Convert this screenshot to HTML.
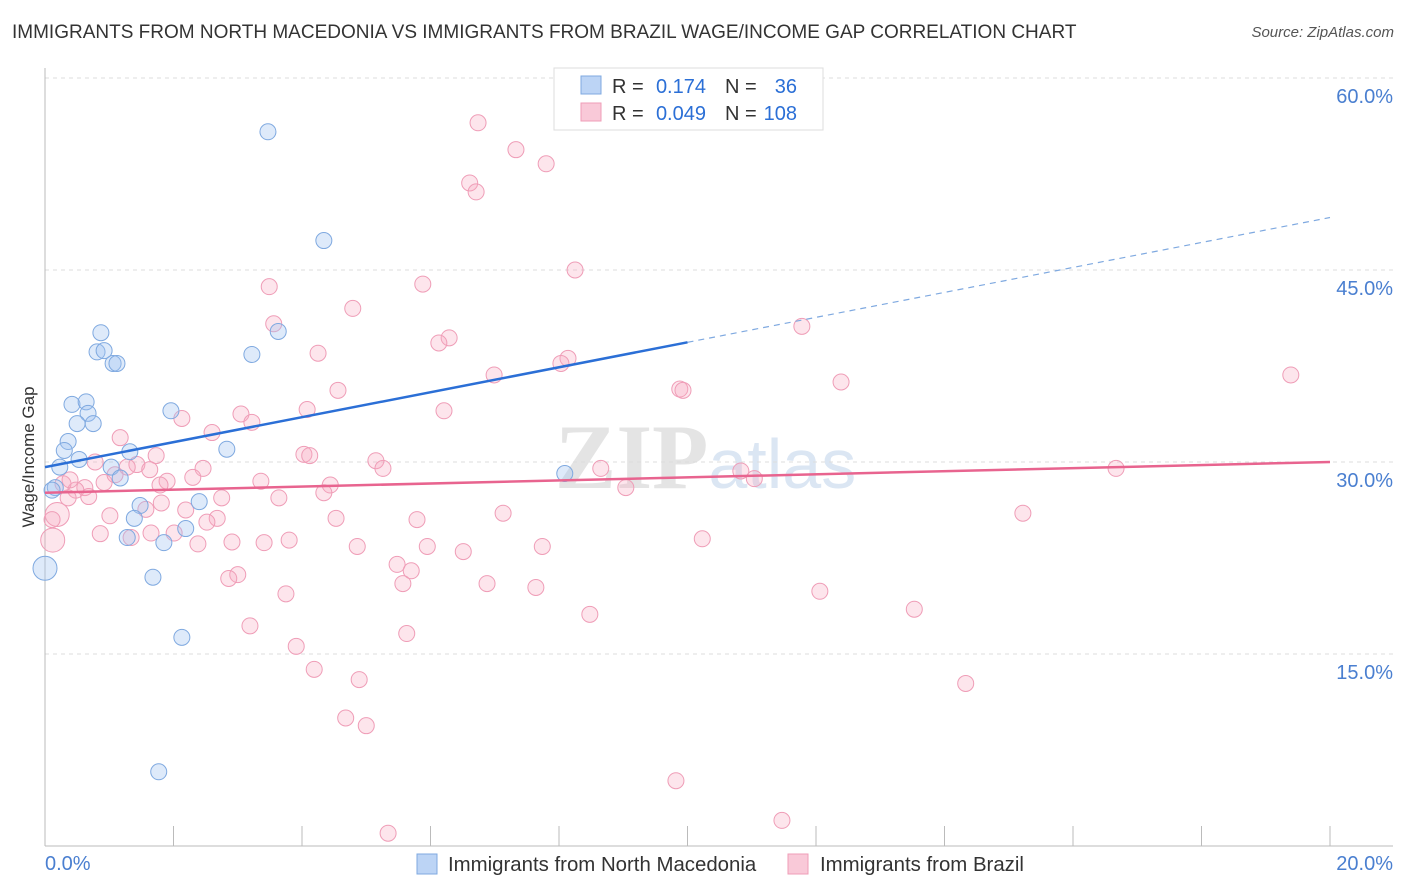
<!DOCTYPE html>
<html><head><meta charset="utf-8">
<style>
body{margin:0;background:#fff;font-family:"Liberation Sans",sans-serif;}
#wrap{position:relative;width:1406px;height:892px;overflow:hidden;}
.title{position:absolute;left:12px;top:22px;font-size:19px;color:#333;}
.source{position:absolute;right:12px;top:24px;font-size:15px;color:#555;font-style:italic;}
</style></head>
<body>
<div id="wrap">
<div class="title">IMMIGRANTS FROM NORTH MACEDONIA VS IMMIGRANTS FROM BRAZIL WAGE/INCOME GAP CORRELATION CHART</div>
<div class="source">Source: ZipAtlas.com</div>
<svg id="svg" width="1406" height="892" style="position:absolute;left:0;top:0"></svg>
</div>
<script>
const blueX=[3.47,4.34,0.87,0.81,0.92,1.06,1.12,3.22,3.63,0.42,0.64,0.67,0.75,0.50,1.96,0.36,0.30,0.53,1.32,2.83,0.23,1.03,1.17,0.16,0.11,1.48,2.40,1.39,2.19,1.28,1.85,1.68,0.0,2.13,1.77,8.09];
const blueY=[55.8,47.3,40.1,38.6,38.7,37.7,37.7,38.4,40.2,34.5,34.7,33.8,33.0,33.0,34.0,31.6,30.9,30.2,30.8,31.0,29.6,29.6,28.75,28.0,27.8,26.6,26.9,25.6,24.8,24.1,23.7,21.0,21.7,16.3,5.8,29.1];
const blueBig=[32];
const pinkX=[6.74,7.33,7.80,6.61,6.71,8.25,5.88,3.49,4.79,3.56,11.78,6.29,6.13,4.25,8.14,8.03,6.99,9.88,9.93,12.39,4.56,19.39,6.21,4.08,3.05,2.13,3.22,2.60,1.17,1.73,4.03,4.12,5.15,5.26,0.78,1.43,1.28,8.65,10.83,11.04,16.67,2.46,2.30,1.90,0.28,0.62,0.48,0.92,3.36,4.44,9.04,0.36,0.68,4.34,2.75,3.64,1.81,1.57,2.19,7.13,15.22,1.01,2.68,2.52,4.53,5.79,0.19,0.11,0.12,0.86,1.34,1.65,2.01,2.38,2.91,3.41,3.80,4.86,5.95,6.51,7.74,10.23,5.48,5.70,5.57,3.00,2.86,6.88,7.64,12.06,8.48,13.53,3.75,3.19,5.63,3.91,4.19,4.89,14.33,4.68,5.00,9.82,11.47,5.34,0.39,1.09,1.63,1.79];
const pinkY=[56.5,54.4,53.3,51.8,51.1,45.0,43.9,43.7,42.0,40.8,40.6,39.7,39.3,38.5,38.1,37.7,36.8,35.7,35.6,36.25,35.6,36.8,34.0,34.1,33.75,33.4,33.1,32.3,31.9,30.5,30.6,30.5,30.1,29.5,30.0,29.8,29.6,29.5,29.3,28.7,29.5,29.5,28.8,28.5,28.3,28.0,27.8,28.4,28.5,28.2,28.0,27.2,27.3,27.6,27.2,27.2,26.8,26.3,26.25,26.0,26.0,25.8,25.6,25.3,25.6,25.5,25.9,25.5,23.9,24.4,24.1,24.45,24.45,23.6,23.75,23.7,23.9,23.4,23.4,23.0,23.4,24.0,22.0,21.5,20.5,21.2,20.9,20.5,20.2,19.9,18.1,18.5,19.7,17.2,16.6,15.6,13.8,13.0,12.7,10.0,9.4,5.1,2.0,1.0,28.6,29.0,29.4,28.2];
const pinkBig=[66,68];
const yTicks=[15,30,45,60];
const yTickLabels=["15.0%","30.0%","45.0%","60.0%"];
const xTicks=[0,2,4,6,8,10,12,14,16,18,20];
const blueTrend=[29.6,49.1];
const pinkTrend=[27.6,30.0];

const NS="http://www.w3.org/2000/svg";
const svg=document.getElementById('svg');
const X=v=>45+v/20*1285;
const Y=v=>846-v/15*192;
function el(tag,attrs,parent){const e=document.createElementNS(NS,tag);for(const k in attrs)e.setAttribute(k,attrs[k]);(parent||svg).appendChild(e);return e;}

const wm=el('text',{x:555,y:488,'font-size':92,fill:'#e4e4e4','font-family':'Liberation Serif, serif','font-weight':'bold'});


wm.innerHTML='ZIP<tspan fill="#dbe6f3" font-family="Liberation Sans, sans-serif" font-weight="normal" font-size="70">atlas</tspan>';

yTicks.forEach((t,i)=>{
 const g=el('line',{x1:45,x2:1393,y1:Y(t),y2:Y(t),stroke:'#dddddd','stroke-dasharray':'4,4'});
 
 
 const l=el('text',{x:1393,y:Y(t)+25,'text-anchor':'end','font-size':20,fill:'#4a7fd0'});
 
 
 l.textContent=yTickLabels[i];
});
const tg=el('line',{x1:45,x2:1393,y1:78,y2:78,stroke:'#dddddd','stroke-dasharray':'4,4'});


const ax=el('line',{x1:45,x2:45,y1:68,y2:846,stroke:'#bbb'});


const bx=el('line',{x1:45,x2:1393,y1:846,y2:846,stroke:'#bbb'});


xTicks.forEach(t=>{
 const tk=el('line',{x1:X(t),x2:X(t),y1:826,y2:846,stroke:'#bbb'});
 
 
});
const x0=el('text',{x:45,y:870,'font-size':20,fill:'#4a7fd0'});x0.textContent='0.0%';


const x1=el('text',{x:1393,y:870,'text-anchor':'end','font-size':20,fill:'#4a7fd0'});x1.textContent='20.0%';


const yt=el('text',{x:34,y:457,'text-anchor':'middle','font-size':17,fill:'#333',transform:'rotate(-90 34 457)'});yt.textContent='Wage/Income Gap';



pinkX.forEach((v,i)=>{
 const big=pinkBig.includes(i);
 const c=el('circle',{cx:X(v),cy:Y(pinkY[i]),r:big?12:8,fill:'rgba(247,168,192,0.3)',stroke:'#ef9db7','stroke-width':1});
 
 
});
blueX.forEach((v,i)=>{
 const big=blueBig.includes(i);
 const c=el('circle',{cx:X(v),cy:Y(blueY[i]),r:big?12:8,fill:'rgba(160,196,240,0.35)',stroke:'#7fa9e0','stroke-width':1});
 
 
});
const bAt=x=>blueTrend[0]+(blueTrend[1]-blueTrend[0])*x/20;
const bl=el('line',{x1:X(0),y1:Y(bAt(0)),x2:X(10),y2:Y(bAt(10)),stroke:'#2b6fd6','stroke-width':2.5});


const bd=el('line',{x1:X(10),y1:Y(bAt(10)),x2:X(20),y2:Y(bAt(20)),stroke:'#7fa9e0','stroke-width':1.2,'stroke-dasharray':'6,5'});


const pl=el('line',{x1:X(0),y1:Y(pinkTrend[0]),x2:X(20),y2:Y(pinkTrend[1]),stroke:'#e8648f','stroke-width':2.5});



const lg=el('g',{});


el('rect',{x:554,y:68,width:269,height:62,fill:'#fff',stroke:'#ddd'},lg);
el('rect',{x:581,y:76,width:20,height:18,fill:'#bcd4f5',stroke:'#7fa9e0'},lg);
el('rect',{x:581,y:103,width:20,height:18,fill:'#f9c9d8',stroke:'#ef9db7'},lg);
function t(x,y,s,c,a){const e=el('text',{x:x,y:y,'font-size':20,fill:c,'text-anchor':a||'start'},lg);e.textContent=s;return e;}
t(612,93,'R =','#333');t(706,93,'0.174','#2b6fd6','end');t(725,93,'N =','#333');t(797,93,'36','#2b6fd6','end');
t(612,120,'R =','#333');t(706,120,'0.049','#2b6fd6','end');t(725,120,'N =','#333');t(797,120,'108','#2b6fd6','end');

const bl2=el('g',{});


el('rect',{x:417,y:854,width:20,height:20,fill:'#bcd4f5',stroke:'#7fa9e0'},bl2);
const a1=el('text',{x:448,y:871,'font-size':20.4,fill:'#333'},bl2);a1.textContent='Immigrants from North Macedonia';
el('rect',{x:788,y:854,width:20,height:20,fill:'#f9c9d8',stroke:'#ef9db7'},bl2);
const a2=el('text',{x:820,y:871,'font-size':20.4,fill:'#333'},bl2);a2.textContent='Immigrants from Brazil';
</script>
</body></html>
